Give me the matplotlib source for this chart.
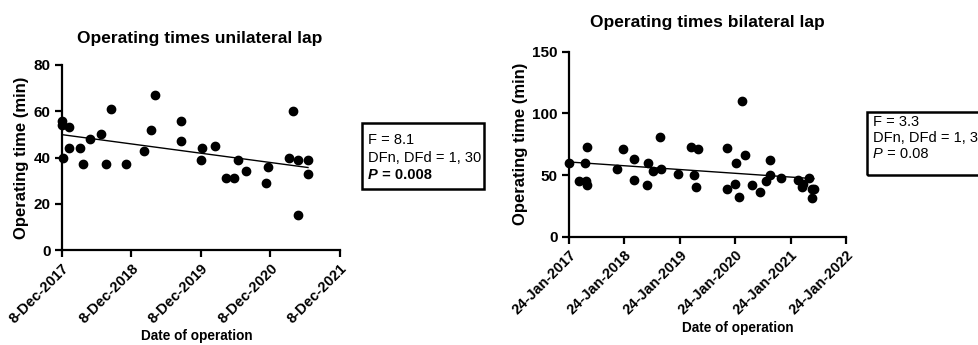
import matplotlib
matplotlib.use("Agg")
import matplotlib.pyplot as plt
import numpy as np

plt.rcParams['font.family'] = ['Liberation Sans', 'DejaVu Sans']

# ---- Data: unilateral (years since 8-Dec-2017, minutes)
uni_years = [0.00, 0.01, 0.02, 0.11, 0.10, 0.26, 0.31, 0.40, 0.56, 0.64, 0.71, 0.93,
             1.19, 1.28, 1.34, 1.72, 1.72, 2.00, 2.02, 2.20, 2.36, 2.47, 2.54, 2.65,
             2.94, 2.97, 3.27, 3.32, 3.39, 3.39, 3.54, 3.54]
uni_minutes = [56, 54, 40, 53, 44, 44, 37, 48, 50, 37, 61, 37,
               43, 52, 67, 56, 47, 39, 44, 45, 31, 31, 39, 34,
               29, 36, 40, 60, 39, 15, 39, 33]
uni_ticklabels = ['8-Dec-2017', '8-Dec-2018', '8-Dec-2019', '8-Dec-2020', '8-Dec-2021']

# ---- Data: bilateral (years since 24-Jan-2017, minutes)
bi_years = [0.00, 0.18, 0.28, 0.31, 0.33, 0.33, 0.86, 0.98, 1.17, 1.18, 1.41, 1.43,
            1.51, 1.64, 1.66, 1.97, 2.20, 2.25, 2.33, 2.30, 2.85, 2.86, 2.99, 3.01,
            3.07, 3.12, 3.17, 3.31, 3.45, 3.56, 3.62, 3.62, 3.82, 4.13, 4.20, 4.23,
            4.34, 4.39, 4.42, 4.39]
bi_minutes = [60, 45, 60, 45, 73, 42, 55, 71, 46, 63, 42, 60,
              53, 81, 55, 51, 73, 50, 71, 40, 72, 39, 43, 60,
              32, 110, 66, 42, 36, 45, 62, 50, 48, 46, 40, 43,
              48, 39, 39, 31]
bi_ticklabels = ['24-Jan-2017', '24-Jan-2018', '24-Jan-2019', '24-Jan-2020',
                 '24-Jan-2021', '24-Jan-2022']

uni_stats = ['F = 8.1', 'DFn, DFd = 1, 30', '0.008']
bi_stats = ['F = 3.3', 'DFn, DFd = 1, 38', '0.08']

W, H = 979, 345
fig = plt.figure(figsize=(W / 100, H / 100), dpi=100)


def px_axes(x0, x1, ytop, ybot):
    return fig.add_axes([x0 / W, 1 - ybot / H, (x1 - x0) / W, (ybot - ytop) / H])


def style(ax, ylim, yticks, ticklabels):
    for s in ['top', 'right']:
        ax.spines[s].set_visible(False)
    for s in ['left', 'bottom']:
        ax.spines[s].set_linewidth(1.6)
    ax.set_ylim(*ylim)
    ax.set_yticks(yticks)
    ax.set_xlim(0, len(ticklabels) - 1)
    ax.set_xticks(range(len(ticklabels)))
    ax.set_xticklabels(ticklabels, rotation=45, ha='right', va='top',
                       rotation_mode='anchor', fontweight='bold', fontsize=10.5)
    for lab in ax.get_yticklabels():
        lab.set_fontweight('bold')
        lab.set_fontsize(11)
    ax.tick_params(width=1.6, length=5, direction='out', pad=3)
    ax.set_ylabel('Operating time (min)', fontweight='bold', fontsize=12, labelpad=3)


def draw(ax, x, y):
    x = np.asarray(x, float)
    y = np.asarray(y, float)
    ax.plot(x, y, 'o', color='black', markersize=6, clip_on=False, zorder=3)
    m, b = np.polyfit(x, y, 1)
    xs = np.array([x.min(), x.max()])
    ax.plot(xs, m * xs + b, color='black', linewidth=1.0, zorder=2)


ax1 = px_axes(61.7, 340, 65, 250)
draw(ax1, uni_years, uni_minutes)
style(ax1, (0, 80), [0, 20, 40, 60, 80], uni_ticklabels)

ax2 = px_axes(569, 846, 51.7, 236.7)
draw(ax2, bi_years, bi_minutes)
style(ax2, (0, 150), [0, 50, 100, 150], bi_ticklabels)

fig.text(200 / W, 1 - 39 / H, 'Operating times unilateral lap', ha='center', va='center',
         fontweight='bold', fontsize=12.5)
fig.text(707 / W, 1 - 22 / H, 'Operating times bilateral lap', ha='center', va='center',
         fontweight='bold', fontsize=12.5)
fig.text(197 / W, 1 - 336 / H, 'Date of operation', ha='center', va='center',
         fontweight='bold', fontsize=9.8)
fig.text(738 / W, 1 - 328 / H, 'Date of operation', ha='center', va='center',
         fontweight='bold', fontsize=9.8)


def p_line(x0, y, val, bold):
    w = 'bold' if bold else 'normal'
    t = fig.text(x0 / W, 1 - y / H, 'P', ha='left', va='center', fontsize=10.5,
                 fontweight=w, fontstyle='italic')
    fig.canvas.draw()
    bb = t.get_window_extent()
    fig.text(bb.x1 / W, 1 - y / H, ' = ' + val, ha='left', va='center', fontsize=10.5,
             fontweight=w)


def stats_box(x0, x1, ytop, ybot, rows, lines, bold):
    rect = plt.Rectangle((x0 / W, 1 - ybot / H), (x1 - x0) / W, (ybot - ytop) / H,
                         transform=fig.transFigure, fill=False, edgecolor='black',
                         linewidth=1.8, clip_on=False)
    fig.add_artist(rect)
    for i in range(2):
        fig.text((x0 + 6) / W, 1 - rows[i] / H, lines[i],
                 ha='left', va='center', fontsize=10.5)
    p_line(x0 + 6, rows[2], lines[2], bold)


stats_box(362, 484, 123, 189, [140, 158, 175], uni_stats, True)
stats_box(867, 1000, 112, 175, [122, 138, 153.5], bi_stats, False)

fig.savefig('out.png', dpi=100)
